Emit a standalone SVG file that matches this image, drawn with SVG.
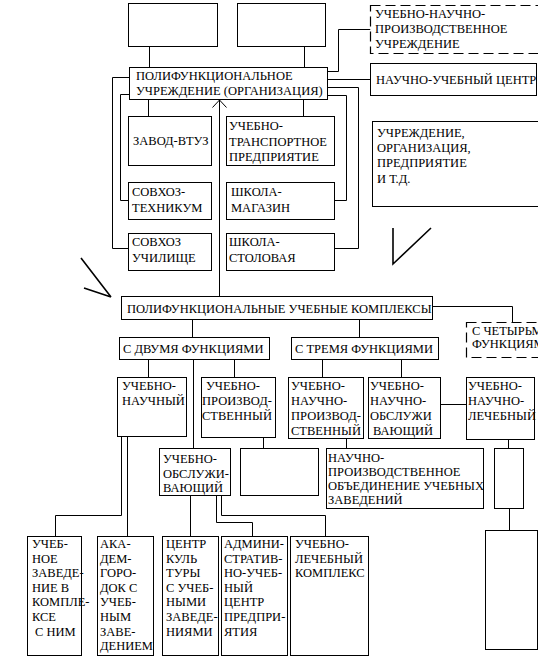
<svg xmlns="http://www.w3.org/2000/svg" width="538" height="661" viewBox="0 0 538 661" font-family="'Liberation Serif', 'DejaVu Serif', serif" font-size="12.5">
<style>
.b{fill:#fff;stroke:#000;stroke-width:1}
.d{fill:#fff;stroke:#000;stroke-width:1.2;stroke-dasharray:10 5}
.c{fill:none;stroke:#000;stroke-width:1}
.s{fill:none;stroke:#000;stroke-width:1.6}
text{font-family:'Liberation Serif','DejaVu Serif',serif;font-size:12.5px;fill:#000}
</style>
<rect width="538" height="661" fill="#fff"/>
<g id="connectors">
<path class="c" d="M149.5 46.5V67.5M304.5 46.5V67.5"/>
<path class="c" d="M327.5 71.5H338.5V29.5H370.5"/>
<path class="c" d="M327.5 79.5H370.5"/>
<path class="c" d="M327.5 87.5H358.5V248.5H334.5"/>
<path class="c" d="M327.5 95.5H346.5V200.5H334.5"/>
<path class="c" d="M303.5 99.5V116.5M148.5 99.5V116.5"/>
<path class="c" d="M129.5 77.5H112.5V248.5H128.5"/>
<path class="c" d="M129.5 94.5H120.5V200.5H128.5"/>
<path class="c" d="M219.5 296.5V100"/>
<path class="c" d="M212.5 107.5L219.5 100L226.5 107.5"/>
<path class="c" d="M432.5 306.5H512.5V322.5"/>
<path class="c" d="M192.5 319.5V337.5M359.5 319.5V337.5"/>
<path class="c" d="M148.5 359.5V377.5M193.5 359.5V448.5M234.5 359.5V377.5"/>
<path class="c" d="M322.5 359.5V377.5M401.5 359.5V377.5"/>
<path class="c" d="M440.5 404.5H466.5"/>
<path class="c" d="M121.5 436.5V515.5H55.5V536.5M127.5 436.5V536.5"/>
<path class="c" d="M263.5 437.5V448.5M346.5 438.5V448.5M508.5 439.5V448.5M509.5 508.5V530.5"/>
<path class="c" d="M190.5 495.5V536.5M216.5 495.5V522.5H252.5V536.5M221.5 495.5V515.5H325.5V536.5"/>
</g>
<g id="marks">
<path class="s" d="M393 228V264L431 228"/>
<path class="s" d="M81 258L111 297M84 288L111 297"/>
</g>
<g id="n_top1"><rect class="b" x="128.5" y="3.5" width="89" height="43"/></g>
<g id="n_top2"><rect class="b" x="237.5" y="3.5" width="88" height="43"/></g>
<g id="n_main"><rect class="b" x="129.5" y="67.5" width="198" height="32"/>
<text x="136" y="80">ПОЛИФУНКЦИОНАЛЬНОЕ</text><text x="136" y="95">УЧРЕЖДЕНИЕ (ОРГАНИЗАЦИЯ)</text></g>
<g id="n_unpu"><rect class="d" x="370.5" y="5.5" width="180" height="48"/>
<text x="375" y="18">УЧЕБНО-НАУЧНО-</text><text x="375" y="33">ПРОИЗВОДСТВЕННОЕ</text><text x="375" y="48">УЧРЕЖДЕНИЕ</text></g>
<g id="n_nuc"><rect class="b" x="370.5" y="63.5" width="166" height="32"/>
<text x="376" y="84">НАУЧНО-УЧЕБНЫЙ ЦЕНТР</text></g>
<g id="n_zavod"><rect class="b" x="128.5" y="116.5" width="83" height="49"/>
<text x="133" y="145">ЗАВОД-ВТУЗ</text></g>
<g id="n_transp"><rect class="b" x="226.5" y="116.5" width="108" height="49"/>
<text x="229" y="130">УЧЕБНО-</text><text x="229" y="146">ТРАНСПОРТНОЕ</text><text x="229" y="161">ПРЕДПРИЯТИЕ</text></g>
<g id="n_sovt"><rect class="b" x="128.5" y="182.5" width="83" height="37"/>
<text x="132" y="196">СОВХОЗ-</text><text x="132" y="212">ТЕХНИКУМ</text></g>
<g id="n_shmag"><rect class="b" x="226.5" y="182.5" width="108" height="37"/>
<text x="231" y="196">ШКОЛА-</text><text x="231" y="212">МАГАЗИН</text></g>
<g id="n_sovu"><rect class="b" x="128.5" y="233.5" width="83" height="37"/>
<text x="132" y="246">СОВХОЗ</text><text x="132" y="262">УЧИЛИЩЕ</text></g>
<g id="n_shst"><rect class="b" x="226.5" y="233.5" width="108" height="37"/>
<text x="229" y="246">ШКОЛА-</text><text x="229" y="262">СТОЛОВАЯ</text></g>
<g id="n_uchr"><rect class="b" x="372.5" y="121.5" width="170" height="85"/>
<text x="377" y="137">УЧРЕЖДЕНИЕ,</text><text x="377" y="152">ОРГАНИЗАЦИЯ,</text><text x="377" y="167">ПРЕДПРИЯТИЕ</text><text x="377" y="183">И Т.Д.</text></g>
<g id="n_pk"><rect class="b" x="121.5" y="296.5" width="311" height="23"/>
<text x="127" y="313">ПОЛИФУНКЦИОНАЛЬНЫЕ УЧЕБНЫЕ КОМПЛЕКСЫ</text></g>
<g id="n_four"><rect class="d" x="466.5" y="322.5" width="80" height="35"/>
<text x="472" y="335">С ЧЕТЫРЬМЯ</text><text x="472" y="348">ФУНКЦИЯМИ</text></g>
<g id="n_two"><rect class="b" x="119.5" y="337.5" width="150" height="22"/>
<text x="123" y="353">С ДВУМЯ ФУНКЦИЯМИ</text></g>
<g id="n_three"><rect class="b" x="291.5" y="337.5" width="147" height="22"/>
<text x="295" y="353">С ТРЕМЯ ФУНКЦИЯМИ</text></g>
<g id="n_un"><rect class="b" x="117.5" y="377.5" width="69" height="59"/>
<text x="122" y="390">УЧЕБНО-</text><text x="122" y="405">НАУЧНЫЙ</text></g>
<g id="n_up"><rect class="b" x="201.5" y="377.5" width="74" height="60"/>
<text x="206" y="390">УЧЕБНО-</text><text x="202" y="405">ПРОИЗВОД-</text><text x="202" y="420">СТВЕННЫЙ</text></g>
<g id="n_unp"><rect class="b" x="288.5" y="377.5" width="75" height="61"/>
<text x="291" y="390">УЧЕБНО-</text><text x="291" y="405">НАУЧНО-</text><text x="291" y="420">ПРОИЗВОД-</text><text x="291" y="435">СТВЕННЫЙ</text></g>
<g id="n_uno"><rect class="b" x="368.5" y="377.5" width="72" height="61"/>
<text x="370" y="390">УЧЕБНО-</text><text x="370" y="405">НАУЧНО-</text><text x="370" y="420">ОБСЛУЖИ</text><text x="373" y="435">ВАЮЩИЙ</text></g>
<g id="n_unl"><rect class="b" x="466.5" y="377.5" width="68" height="62"/>
<text x="468" y="390">УЧЕБНО-</text><text x="468" y="405">НАУЧНО-</text><text x="468" y="420">ЛЕЧЕБНЫЙ</text></g>
<g id="n_uo"><rect class="b" x="159.5" y="448.5" width="71" height="47"/>
<text x="163" y="463">УЧЕБНО-</text><text x="163" y="478">ОБСЛУЖИ-</text><text x="163" y="492">ВАЮЩИЙ</text></g>
<g id="n_empty"><rect class="b" x="240.5" y="448.5" width="78" height="47"/></g>
<g id="n_npo"><rect class="b" x="326.5" y="448.5" width="157" height="60"/>
<text x="328" y="462">НАУЧНО-</text><text x="328" y="476">ПРОИЗВОДСТВЕННОЕ</text><text x="328" y="490">ОБЪЕДИНЕНИЕ УЧЕБНЫХ</text><text x="328" y="504">ЗАВЕДЕНИЙ</text></g>
<g id="n_small"><rect class="b" x="494.5" y="448.5" width="29" height="60"/></g>
<g id="n_big"><rect class="b" x="485.5" y="530.5" width="52" height="119"/></g>
<g id="n_b1"><rect class="b" x="27.5" y="536.5" width="54" height="119"/>
<text x="32" y="548">УЧЕБ-</text><text x="32" y="563">НОЕ</text><text x="32" y="577">ЗАВЕДЕ-</text><text x="32" y="592">НИЕ В</text><text x="32" y="606">КОМПЛЕ-</text><text x="32" y="621">КСЕ</text><text x="35" y="636">С НИМ</text></g>
<g id="n_b2"><rect class="b" x="97.5" y="536.5" width="56" height="119"/>
<text x="100" y="548">АКА-</text><text x="100" y="563">ДЕМ-</text><text x="100" y="577">ГОРО-</text><text x="100" y="592">ДОК С</text><text x="100" y="606">УЧЕБ-</text><text x="100" y="621">НЫМ</text><text x="100" y="636">ЗАВЕ-</text><text x="100" y="650">ДЕНИЕМ</text></g>
<g id="n_b3"><rect class="b" x="162.5" y="536.5" width="56" height="119"/>
<text x="166" y="548">ЦЕНТР</text><text x="166" y="563">КУЛЬ</text><text x="166" y="577">ТУРЫ</text><text x="166" y="592">С УЧЕБ-</text><text x="166" y="606">НЫМИ</text><text x="166" y="621">ЗАВЕДЕ-</text><text x="166" y="636">НИЯМИ</text></g>
<g id="n_b4"><rect class="b" x="221.5" y="536.5" width="66" height="119"/>
<text x="224" y="548">АДМИНИ-</text><text x="224" y="563">СТРАТИВ-</text><text x="224" y="577">НО-УЧЕБ-</text><text x="224" y="592">НЫЙ</text><text x="224" y="606">ЦЕНТР</text><text x="224" y="621">ПРЕДПРИ-</text><text x="224" y="636">ЯТИЯ</text></g>
<g id="n_b5"><rect class="b" x="290.5" y="536.5" width="78" height="119"/>
<text x="295" y="548">УЧЕБНО-</text><text x="295" y="563">ЛЕЧЕБНЫЙ</text><text x="295" y="577">КОМПЛЕКС</text></g>
</svg>
